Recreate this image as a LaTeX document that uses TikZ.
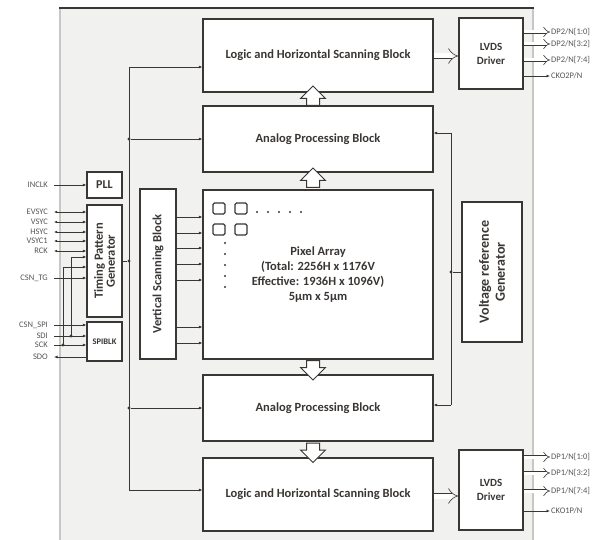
\documentclass[tikz,border=0pt]{standalone}
\usepackage{fontspec}
\setmainfont{Carlito}
\usepackage{tikz}
\usetikzlibrary{arrows.meta}
\usetikzlibrary{shapes.arrows}
\usetikzlibrary{calc}
\definecolor{ink}{HTML}{3A3633}
\definecolor{panel}{HTML}{F1F1EF}
\definecolor{panelrim}{HTML}{C9C7C5}
\definecolor{labelgray}{HTML}{555555}
\tikzset{
  blockbox/.style={draw=ink, line width=1.3pt, fill=white, inner sep=2pt, align=center, text=ink, font=\fontsize{12.5}{15}\selectfont\bfseries},
  sidetext/.style={rotate=90, align=center, text=ink, inner sep=0pt},
  wire/.style={draw=ink, line width=0.7pt},
  sig/.style={wire, -{Latex[length=3.5pt,width=3pt]}},
  bisig/.style={wire, {Latex[length=3pt,width=2.6pt]}-{Latex[length=3.5pt,width=3pt]}},
  bus/.style={draw=ink, double=white, line width=0.6pt, double distance=3pt, -{Implies}},
  hollow/.style={single arrow, draw=ink, line width=1pt, fill=white, inner sep=6pt, single arrow head extend=6pt, minimum height=18pt},
  pinlabel/.style={font=\fontsize{8.5}{9}\selectfont, text=labelgray, inner sep=1pt},
  junction/.style={circle, fill=ink, inner sep=0pt, minimum size=3.2pt},
  cell/.style={draw=ink, line width=1.3pt, rounded corners=1.5pt}
}
\begin{document}
\begin{tikzpicture}[x=1pt,y=-1pt]
\useasboundingbox (0,0) rectangle (605,540);

\fill [panel] (60,8) rectangle (533,545);
\draw [panelrim, line width=1.5pt] (60,545) -- (60,8);
\draw [panelrim, line width=1.5pt] (533,8) -- (533,545);
\draw [ink, line width=1.5pt] (59,8) -- (534,8);

\node [blockbox, minimum width=230, minimum height=73] (logictop) at (318,55.5) {Logic and Horizontal Scanning Block};
\node [blockbox, minimum width=230, minimum height=66] (analogtop) at (318,139) {Analog Processing Block};
\node [blockbox, minimum width=230, minimum height=169] (pixel) at (318,274.5) {Pixel Array\\(Total: 2256H x 1176V\\Effective: 1936H x 1096V)\\5μm x 5μm};
\node [blockbox, minimum width=230, minimum height=66] (analogbot) at (318,408) {Analog Processing Block};
\node [blockbox, minimum width=230, minimum height=73] (logicbot) at (318,494.5) {Logic and Horizontal Scanning Block};
\node [blockbox, minimum width=64, minimum height=71, font=\fontsize{11}{14}\selectfont\bfseries] (lvdstop) at (491,53.5) {LVDS\\Driver};
\node [blockbox, minimum width=64, minimum height=80, font=\fontsize{11}{14}\selectfont\bfseries] (lvdsbot) at (491,490) {LVDS\\Driver};
\node [blockbox, minimum width=60, minimum height=140] (vref) at (492,272) {};
\node [blockbox, minimum width=36, minimum height=170] (vscan) at (158,274) {};
\node [blockbox, minimum width=35, minimum height=26, font=\fontsize{12}{12}\selectfont\bfseries] (pll) at (104.5,185) {PLL};
\node [blockbox, minimum width=35, minimum height=112] (tpg) at (104.5,261) {};
\node [blockbox, minimum width=35, minimum height=39, font=\fontsize{8.5}{9}\selectfont\bfseries] (spiblk) at (104.5,341.5) {SPIBLK};

\node [sidetext, font=\fontsize{14}{16}\selectfont\bfseries] (vreflabel) at (vref) {Voltage reference\\Generator};
\node [sidetext, font=\fontsize{12.5}{13}\selectfont\bfseries] (vscanlabel) at (vscan) {Vertical Scanning Block};
\node [sidetext, font=\fontsize{12.5}{12}\selectfont\bfseries] (tpglabel) at (tpg) {Timing Pattern\\Generator};

\node [hollow, shape border rotate=90] (up1) at (313,99) {};
\node [hollow, shape border rotate=90] (up2) at (313,181) {};
\node [hollow, shape border rotate=270] (down1) at (313,367) {};
\node [hollow, shape border rotate=270] (down2) at (313,449.5) {};

\draw [cell] (213,203) rectangle (225,214);
\draw [cell] (235,203) rectangle (247,214);
\draw [cell] (213,224) rectangle (225,235);
\draw [cell] (235,224) rectangle (247,235);
\fill [ink] (257,212) circle (1.2);
\fill [ink] (268,212) circle (1.2);
\fill [ink] (279,212) circle (1.2);
\fill [ink] (290,212) circle (1.2);
\fill [ink] (301,212) circle (1.2);
\fill [ink] (225,243) circle (1.2);
\fill [ink] (225,254) circle (1.2);
\fill [ink] (225,265) circle (1.2);
\fill [ink] (225,276) circle (1.2);
\fill [ink] (225,287) circle (1.2);

\coordinate (bt) at (129,67);
\coordinate (bb) at (129,490);
\draw [wire] (bt) -- (bb);
\draw [sig] (bt) -- (logictop.west |- bt);
\draw [sig] (bb) -- (logicbot.west |- bb);
\node [junction] (ja1) at (bt |- analogtop.west) {};
\node [junction] (ja2) at (bt |- analogbot.west) {};
\node [junction] (jtpg) at (bt |- tpg.east) {};
\draw [sig] (ja1) -- (analogtop.west);
\draw [sig] (ja2) -- (analogbot.west);
\draw [wire] (tpg.east) -- (jtpg);

\draw [sig] (vscan.east |- 0,217) -- (pixel.west |- 0,217);
\draw [sig] (vscan.east |- 0,233) -- (pixel.west |- 0,233);
\draw [sig] (vscan.east |- 0,248) -- (pixel.west |- 0,248);
\draw [sig] (vscan.east |- 0,264) -- (pixel.west |- 0,264);
\draw [sig] (vscan.east |- 0,280) -- (pixel.west |- 0,280);
\draw [sig] (vscan.east |- 0,327) -- (pixel.west |- 0,327);
\draw [sig] (vscan.east |- 0,343) -- (pixel.west |- 0,343);

\coordinate (vt) at (451,133);
\coordinate (vb) at (451,405);
\draw [wire] (vt) -- (vb);
\draw [sig] (vt) -- (analogtop.east |- vt);
\draw [sig] (vb) -- (analogbot.east |- vb);
\node [junction] (jv) at (vt |- vref.west) {};
\draw [wire] (jv) -- (vref.west);

\draw [bus, double distance=5pt] (logictop.east |- 0,56) -- (lvdstop.west |- 0,56);
\draw [bus, double distance=5pt] (logicbot.east |- 0,496) -- (lvdsbot.west |- 0,496);

\node [pinlabel, anchor=west] (dp2a) at (550,32) {DP2/N[1:0]};
\node [pinlabel, anchor=west] (dp2b) at (550,44) {DP2/N[3:2]};
\node [pinlabel, anchor=west] (dp2c) at (550,60) {DP2/N[7:4]};
\node [pinlabel, anchor=west] (cko2) at (550,76) {CKO2P/N};
\node [pinlabel, anchor=west] (dp1a) at (550,457) {DP1/N[1:0]};
\node [pinlabel, anchor=west] (dp1b) at (550,473) {DP1/N[3:2]};
\node [pinlabel, anchor=west] (dp1c) at (550,491) {DP1/N[7:4]};
\node [pinlabel, anchor=west] (cko1) at (550,511) {CKO1P/N};
\draw [bus] (lvdstop.east |- dp2a.west) -- (dp2a.west);
\draw [bus] (lvdstop.east |- dp2b.west) -- (dp2b.west);
\draw [bus] (lvdstop.east |- dp2c.west) -- (dp2c.west);
\draw [sig] (lvdstop.east |- cko2.west) -- (cko2.west);
\draw [bus] (lvdsbot.east |- dp1a.west) -- (dp1a.west);
\draw [bus] (lvdsbot.east |- dp1b.west) -- (dp1b.west);
\draw [bus] (lvdsbot.east |- dp1c.west) -- (dp1c.west);
\draw [sig] (lvdsbot.east |- cko1.west) -- (cko1.west);

\node [pinlabel, anchor=east] (inclk) at (49,185) {INCLK};
\node [pinlabel, anchor=east] (evsyc) at (49,212) {EVSYC};
\node [pinlabel, anchor=east] (vsyc) at (49,222) {VSYC};
\node [pinlabel, anchor=east] (hsyc) at (49,232) {HSYC};
\node [pinlabel, anchor=east] (vsyc1) at (49,241) {VSYC1};
\node [pinlabel, anchor=east] (rck) at (49,251) {RCK};
\node [pinlabel, anchor=east] (csntg) at (49,278) {CSN\_TG};
\node [pinlabel, anchor=east] (csnspi) at (49,325) {CSN\_SPI};
\node [pinlabel, anchor=east] (sdi) at (49,336) {SDI};
\node [pinlabel, anchor=east] (sck) at (49,345) {SCK};
\node [pinlabel, anchor=east] (sdo) at (49,357) {SDO};
\draw [sig] ([xshift=5pt]inclk.east) -- (pll.west);
\draw [bisig] ([xshift=5pt]evsyc.east) -- (tpg.west |- evsyc.east);
\draw [bisig] ([xshift=5pt]vsyc.east) -- (tpg.west |- vsyc.east);
\draw [bisig] ([xshift=5pt]hsyc.east) -- (tpg.west |- hsyc.east);
\draw [bisig] ([xshift=5pt]vsyc1.east) -- (tpg.west |- vsyc1.east);
\draw [bisig] ([xshift=5pt]rck.east) -- (tpg.west |- rck.east);
\draw [sig] ([xshift=5pt]csntg.east) -- (tpg.west |- csntg.east);
\draw [sig] ([xshift=5pt]csnspi.east) -- (spiblk.west |- csnspi.east);
\draw [sig] ([xshift=5pt]sdi.east) -- (spiblk.west |- sdi.east);
\draw [sig] ([xshift=5pt]sck.east) -- (spiblk.west |- sck.east);
\draw [sig] (spiblk.west |- sdo.east) -- ([xshift=5pt]sdo.east);
\node [junction] (jsdi) at (71,336) {};
\node [junction] (jsck) at (63,345) {};
\draw [sig] (jsdi.center) |- (tpg.west |- 0,257);
\draw [sig] (jsck.center) |- (tpg.west |- 0,267);
\end{tikzpicture}
\end{document}
